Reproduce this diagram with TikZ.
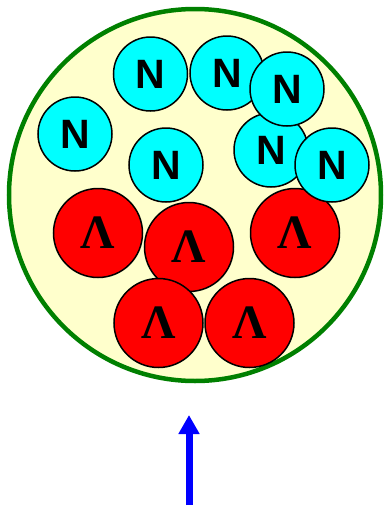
\documentclass[tikz,border=0pt]{standalone}
\usepackage{fontspec}
\setmainfont{Liberation Serif}
\setsansfont{Liberation Sans}
\usetikzlibrary{arrows.meta}
\definecolor{coreyellow}{RGB}{255,255,204}
\definecolor{coregreen}{RGB}{0,128,0}
\definecolor{nucleoncyan}{RGB}{0,255,255}
\definecolor{hyperonred}{RGB}{255,0,0}
\definecolor{beamblue}{RGB}{0,0,255}

\begin{document}
\begin{tikzpicture}[
  x=1pt,y=-1pt,
  nucleus/.style={circle,draw=coregreen,line width=4.5pt,fill=coreyellow,minimum size=372pt,inner sep=0pt},
  nucleon/.style={circle,draw,line width=1.5pt,fill=nucleoncyan,minimum size=74pt,inner sep=0pt,
    font=\sffamily\bfseries\fontsize{41}{41}\selectfont},
  hyperon/.style={circle,draw,line width=1.5pt,fill=hyperonred,minimum size=89pt,inner sep=0pt,
    font=\rmfamily\bfseries\fontsize{48}{48}\selectfont},
  beam/.style={-{Triangle[width=20pt,length=19pt]},line width=7pt,beamblue}
]
  \useasboundingbox (0,0) rectangle (384,507);
  \node[nucleus] (core) at (195,195) {};

  \node[hyperon] (lam1) at (98,233) {Λ};
  \node[hyperon] (lam2) at (189,247) {Λ};
  \node[hyperon] (lam3) at (295,233) {Λ};
  \node[hyperon] (lam5) at (249.5,323) {Λ};
  \node[hyperon] (lam4) at (158.5,323) {Λ};

  \node[nucleon] (n1) at (150.5,74) {N};
  \node[nucleon] (n2) at (227,73) {N};
  \node[nucleon] (n4) at (75,134) {N};
  \node[nucleon] (n5) at (166,165) {N};
  \node[nucleon] (n6) at (271,150) {N};
  \node[nucleon] (n3) at (287,89) {N};
  \node[nucleon] (n7) at (332,165) {N};

  \coordinate (tail) at (189,505);
  \coordinate (tip) at (189,415);
  \draw[beam] (tail) -- (tip);
\end{tikzpicture}
\end{document}
